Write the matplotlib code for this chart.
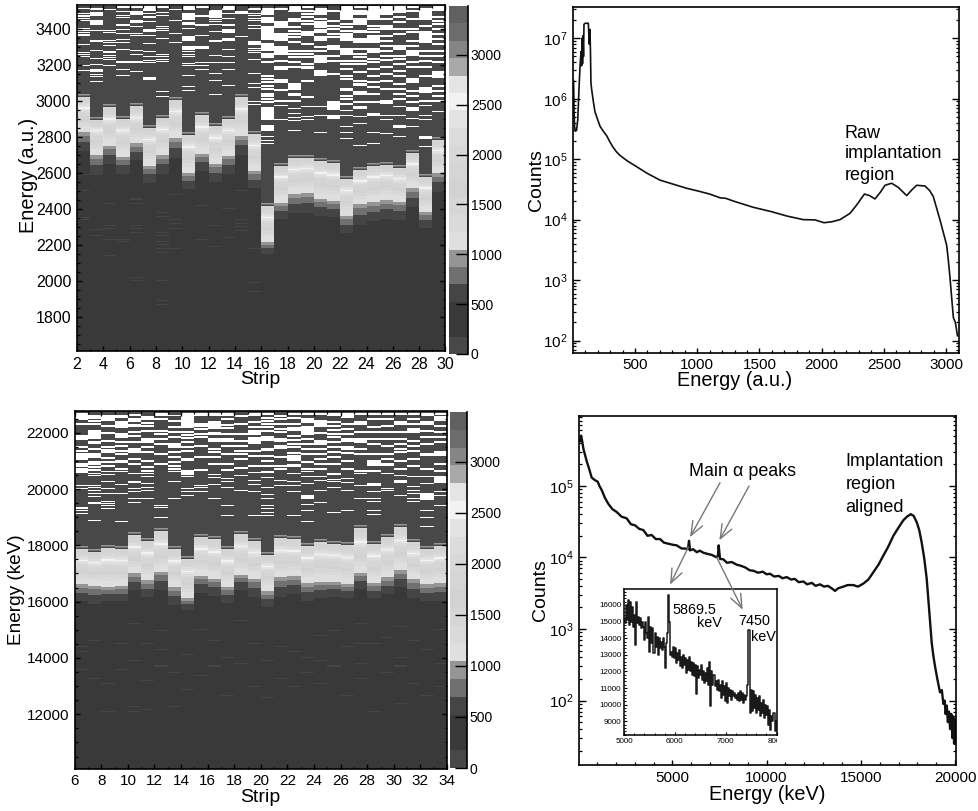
import numpy as np
import matplotlib
matplotlib.use('Agg')
import matplotlib.pyplot as plt
from matplotlib.colors import ListedColormap, BoundaryNorm
from matplotlib.ticker import MultipleLocator, LogLocator, NullFormatter
from matplotlib.transforms import Bbox

plt.rcParams['font.family'] = ['Liberation Sans', 'DejaVu Sans']
plt.rcParams['mathtext.fontset'] = 'custom'
plt.rcParams['mathtext.rm'] = 'Liberation Sans'

W, H = 979, 811

# colour scale of both maps
levels = [i * 174.5 for i in range(21)]
gray_levels = ['#484848', '#393939', '#393939', '#454545', '#707070', '#959595', '#dfdfdf',
               '#dadada', '#d6d6d6', '#d2d2d2', '#d5d5d5', '#d8d8d8', '#dcdcdc', '#e3e3e3',
               '#f2f2f2', '#e5e5e5', '#a9a9a9', '#858585', '#6c6c6c', '#606060']
cbar_ticks = [0, 500, 1000, 1500, 2000, 2500, 3000]

# counts through a strip, top of the band downwards
band_levels = [1500, 1650, 1750, 1900, 2050, 2200, 2350, 2550, 2350, 2150, 2000, 1900,
               1800, 1750, 1650, 1600, 1500, 1450, 1350, 1300, 1200, 1150, 1100, 1080]
fade_levels = [950, 950, 800, 800, 800, 600, 600, 600, 600, 600]
rim_levels = [600, 750, 900]
above_level = 100
below_level = 300
faint_level = 600

# raw map
raw_strips = list(range(2, 30))
raw_top = [3020, 2895, 2965, 2900, 2970, 2850, 2905, 3005, 2810, 2920, 2860, 2900, 3020, 2815,
           2415, 2640, 2680, 2685, 2665, 2655, 2565, 2615, 2640, 2645, 2625, 2710, 2575, 2780]
raw_low = [2825, 2700, 2750, 2690, 2765, 2640, 2700, 2795, 2600, 2705, 2650, 2695, 2805, 2610,
           2215, 2435, 2480, 2490, 2455, 2445, 2360, 2425, 2440, 2450, 2440, 2515, 2385, 2600]
raw_fade = [2720, 2590, 2650, 2595, 2670, 2545, 2595, 2680, 2510, 2610, 2550, 2595, 2700, 2515,
            2150, 2345, 2375, 2375, 2360, 2355, 2265, 2310, 2330, 2345, 2340, 2410, 2295, 2495]
raw_range = (1611, 3537)
raw_nbins = 347
# empty bins per strip, counted down from the top of the range
raw_empty = [
    [(0, 2), 4, 9, 11, 12, 14, 16, 24, 26, 28, 30, 31, 40, 48, 50, 52, 61, 66],
    [(0, 2), (4, 6), (8, 12), (16, 21), 26, (36, 38), 46, 54, 60, (65, 68), 70, 72, 77],
    [(0, 2), 5, 26, 28, 36, 38, 41, (47, 49), 51, 53, 55, 61],
    [(0, 4), 7, 11, 13, (20, 22), 25, 29, 35, 38, 45, 57, 58, 65, 71],
    [(0, 4), (7, 11), (16, 19), 22, 29, 31, 46, 50, 57, 58, 67],
    [(0, 7), 9, (12, 14), 17, (25, 28), (31, 32), 39, 47, 52, 56, 58, (73, 76)],
    [(0, 4), 8, 11, 22, 24, 26, 34, 50, 52, 55, 57, 87, 92],
    [(0, 2), 5, (16, 17), 29, 38],
    [(0, 6), (9, 16), (18, 21), 24, (32, 37), (42, 46), 47, 50, 52, 59, 61, 71, 82, 86],
    [(0, 4), (11, 13), (20, 22), 31, (42, 45), 58, 61, (65, 66)],
    [(0, 2), (6, 14), 15, 17, 20, 27, 36, 37, 51, 58, 69, 76, 90],
    [(0, 6), 9, 14, (20, 22), (25, 29), (34, 37), 45, 52, 58, 65, 81],
    [(7, 10), 32],
    [(4, 6), 9, 11, 14, 16, 21, 24, (37, 41), 44, 46, 48, 55, 69, 79, 83, 97, 100],
    [(0, 2), (4, 11), (13, 19), (22, 36), (39, 47), (49, 54), 57, 71, 74, 77, 81, 84, 89, 91, 94, 97,
     (103, 116), (121, 127), 132, 136, 139],
    [(0, 1), (4, 6), (17, 24), (29, 37), (42, 51), 56, (62, 66), (75, 79), 85, 96, 101, 115],
    [(2, 8), (14, 18), 22, 26, 29, 32, 37, 46, 49, 52, 57, 62, (79, 86), (89, 92), 96, 104, 109,
     113, 116, 126],
    [2, 6, 9, 12, 16, 19, (27, 32), 39, 46, 49, 52, 59, (62, 65), 76, 92, 102, 112, 115],
    [(4, 11), 14, (17, 24), (25, 29), (32, 37), 42, 46, (51, 59), (66, 72), 102, 111, 128],
    [(0, 2), 6, 16, 21, 24, 29, (32, 34), (41, 46), 51, 56, 69, (97, 106), (111, 115)],
    [(2, 16), 19, 22, 26, (29, 37), (44, 51), 56, 59, 64, 71, 74, (84, 87), 91, 94, 99, 106, 111, 122,
     128, 134],
    [2, (6, 11), (14, 21), (26, 29), (34, 39), (44, 46), 49, 52, 56, 59, 67, 76, (79, 82), (87, 91), 97,
     102, (103, 105), 112, 119, 141],
    [(2, 16), 21, 24, 27, (31, 39), (44, 49), 54, 57, 64, 71, 77, 82, 89, 97, (109, 112), 128, 139],
    [(2, 11), (14, 16), (21, 26), 31, 36, 41, 46, 51, 55, 62, 69, 76, 84, (96, 100), 111, 115, 129],
    [(0, 9), 12, 17, 24, 29, (41, 46), 51, 54, 59, 66, 71, 79, 84, 89, 94, 102, 111, (121, 124), 132],
    [2, 6, 14, 24, 27, 36, 41, (46, 52), 57, 62, (74, 79), 86, 91, 97, (103, 107), 114, 122],
    [(4, 16), 21, (27, 39), 46, 51, 56, 62, 71, (83, 89), 96, 101, 111, 115, (132, 135), 142],
    [(2, 7), 12, 16, 19, 24, 29, 34, 39, 46, 51, 57, (67, 74), 81, 86, 91, 96, 107],
]
# slightly filled single bins below the band: strip, energy
raw_faint_strip = [2, 2, 2, 2, 3, 3, 4, 4, 4, 4, 4, 5, 5, 6, 6, 6, 6, 6, 6, 6, 6, 8, 8, 8, 8, 8, 8, 8, 8, 8, 8,
                   8, 9, 9, 9, 9, 9, 11, 11, 12, 12, 13, 13, 14, 14, 14, 14, 14, 15, 15, 15]
raw_faint_energy = [2350, 2340, 2500, 2590, 2285, 2250, 2310, 2290, 2230, 2140, 2430, 2230, 2220, 2460,
                    2450, 2430, 2310, 2290, 2270, 2020, 2000, 2380, 2360, 2270, 2250, 2220, 2200, 2180,
                    2160, 2000, 1890, 1870, 2480, 2340, 2320, 2290, 2180, 2230, 2420, 2190, 2310, 2400,
                    2240, 2500, 2340, 2320, 2300, 2280, 2180, 1990, 1940]

# aligned map
cal_strips = list(range(6, 34))
cal_top = [17850, 17750, 17900, 17850, 18350, 18150, 18500, 17850, 17500, 18300, 18200, 17850, 18400, 18150,
           17650, 18250, 18200, 17950, 18100, 18050, 18000, 18600, 18050, 18300, 18650, 18100, 17850, 17950]
cal_low = [16600, 16550, 16500, 16550, 17000, 16750, 17050, 16500, 16100, 16900, 16800, 16500, 16950, 16800,
           16350, 16850, 16900, 16650, 16700, 16700, 16600, 17000, 16650, 16850, 17100, 16800, 16600, 16650]
cal_fade = [16000, 15900, 16000, 16000, 16400, 16150, 16400, 15850, 15700, 16300, 16200, 15950, 16400, 16150,
            15800, 16150, 16250, 16000, 16100, 16150, 16100, 16450, 16100, 16250, 16500, 16100, 16000, 16000]
cal_range = (10068, 22770)
cal_nbins = 357
cal_empty = [
    [(2, 9), 12, (24, 29), 35, 39, 42, 44, (45, 49), 52, 54, 57, 59, 61, 74, 77, (96, 98), 99, 102],
    [4, 6, 9, 12, (19, 28), (30, 33), 37, (42, 47), 50, 52, 55, 58, 62, 64, 74, 76, 79, 82, 85, (91, 93), 109],
    [(4, 10), (14, 16), (21, 23), 29, 35, 38, 40, 46, 50, 54, 60, 63, 70, 77, 82, 90, 92, 94, 97],
    [(4, 7), (10, 17), (22, 27), 30, 34, 39, 42, (49, 52), 57, 60, 73, 82, 110],
    [3, (7, 11), (13, 16), 20, 24, 30, (37, 42), 47, 52, 62, (70, 72), 77, 80, 87, 91],
    [(5, 9), 11, 14, 19, (27, 32), 35, 40, 49, 55, 59, 62, 65, 72, 76, 79, 87],
    [(2, 5), 7, 19, 22, 27, 32, 42, 52, 94, 96, 106],
    [(4, 5), 9, 15, 20, 25, (32, 37), 40, 45, 50, 54, 57, 60, 70, 87],
    [(2, 17), 20, 23, 26, 30, 35, 39, (47, 50), (59, 64), 65, 77, 80, 84],
    [(2, 5), 12, 14, 17, 22, 25, (34, 36), 45, 58, 74, 76, 80],
    [(2, 5), (10, 18), (21, 24), (27, 31), 37, 40, 45, 52, 63, 66, 73, 87],
    [(2, 5), 7, 13, 16, 22, (27, 31), 34, 42, 52, (58, 60), 67, 70, 76, 94, 104],
    [4, (12, 14), 22, 29, 34, 39, 42, 47, 56, 64, 79],
    [(2, 5), 10, 15, (19, 24), (26, 33), 39, 44, 54, 61, 69, 73, 80, 104],
    [(2, 4), 6, 9, 12, 15, 19, (25, 30), (37, 40), 44, 49, 54, (60, 62), 66, 76, 83, 87, 94, 97, 101, 104],
    [4, 7, 12, 17, 20, (27, 31), (34, 38), 45, 54, 57, 69, 74],
    [(2, 4), (6, 8), 12, (16, 20), 24, 28, 32, 35, 41, (44, 50), (53, 56), 62, 70, 74, 80, 104],
    [2, (7, 12), (15, 24), 27, 32, 37, 42, 50, 57, 60, 65, 72, (84, 88), 93, 99, 110],
    [(2, 4), (9, 16), 21, (29, 34), 37, 42, 47, 52, 57, 65, 69, 79, 91],
    [(2, 5), 10, 14, 18, 22, 25, 30, 35, 40, 45, 52, (62, 64), 68, 70, 76, 101],
    [(2, 7), 12, 17, 22, (27, 31), (35, 39), 41, (49, 51), 57, 67, 71, 79, 99],
    [2, (10, 14), 20, (27, 32), 37, 42, 59, 62, 74, 87],
    [(2, 4), 7, 15, 20, 27, 32, 42, (49, 55), 59, (72, 75), 80, 87, 90, 99, 103],
    [2, 7, 14, 20, 27, 34, 42, 47, (52, 55), 62, 77, 79],
    [(2, 4), (10, 14), 20, 27, 32, 37, 40, 49, 57, 64, (69, 72), 84],
    [2, 7, 12, (17, 22), 29, 34, 39, 47, 54, 65, 75, 79, 82, 87, 90],
    [(2, 5), (10, 14), 19, 25, 32, (42, 45), 57, 65, 72, (82, 89), 99, 106, 115],
    [2, (5, 10), 14, 20, 25, 30, (40, 45), 52, 59, (65, 72), 80, 84, 94],
]
cal_faint_strip = [6, 6, 6, 7, 7, 8, 8, 9, 9, 10, 10, 10, 10, 11, 11, 11, 12, 12, 12, 13, 13, 14, 14, 15, 15, 16, 16,
                   17, 17, 18, 18, 19, 19, 20, 20, 21, 21, 22, 22, 23, 23, 24, 24, 24, 25, 25, 26, 26, 27, 27, 27, 27,
                   28, 28, 29, 29, 30, 30, 30, 30, 31, 31, 32, 32, 33, 33, 33]
cal_faint_energy = [14400, 13600, 14200, 13300, 14600, 13100, 12100, 14500, 13600, 15200, 13900, 12100, 12300,
                    14500, 13200, 12200, 14950, 14300, 13700, 13500, 12300, 14100, 12900, 15000, 13400,
                    14600, 13700, 14000, 12700, 15300, 13800, 14500, 13000, 13900, 12600, 14400, 13300,
                    14200, 13000, 14000, 13500, 14800, 13900, 13100, 14950, 13700, 14400, 12700, 15200,
                    14500, 13800, 13300, 14500, 12100, 14700, 13500, 15100, 14000, 13700, 12400, 14600,
                    13100, 14300, 12700, 15000, 13800, 13000]

# raw spectrum
raw_e = [6, 8, 10, 14, 20, 30, 40, 50, 58, 66, 70, 74, 78, 82, 86, 90, 100, 112, 125, 132, 138, 142, 146, 152, 165,
         178, 200, 219, 245, 272, 300, 326, 350, 380, 440, 500, 600, 701, 800, 915, 1000, 1100, 1183, 1230, 1300,
         1451, 1600, 1719, 1853, 1947, 2019, 2080, 2148, 2228, 2282, 2344, 2385, 2429, 2470, 2510, 2563, 2617, 2684,
         2725, 2764, 2831, 2870, 2898, 2951, 3005, 3018, 3032, 3059, 3075, 3092]
raw_counts = [2e6, 1.2e6, 6e5, 3.5e5, 2.9e5, 3e5, 4.5e5, 1.5e6, 3.4e6, 6e6, 3.5e6, 1e7, 3.8e6, 1.1e7, 5e6, 1.7e7,
              1.77e7, 1.77e7, 1.77e7, 8e6, 1.4e7, 6e6, 1.8e6, 1.4e6, 9e5, 6.1e5, 4.5e5, 3.5e5, 2.9e5, 2.45e5, 1.9e5,
              1.55e5, 1.33e5, 1.15e5, 9.3e4, 7.8e4, 5.8e4, 4.5e4, 3.9e4, 3.3e4, 3e4, 2.65e4, 2.3e4, 2.25e4, 2e4,
              1.6e4, 1.35e4, 1.15e4, 1.0e4, 9.9e3, 8.9e3, 9.2e3, 1.0e4, 1.27e4, 1.75e4, 2.65e4, 2.5e4, 2.2e4, 2.8e4,
              3.7e4, 4e4, 3.4e4, 2.5e4, 3.1e4, 3.7e4, 3.6e4, 3e4, 2.4e4, 1e4, 3.8e3, 2.2e3, 1.1e3, 2.4e2, 2e2, 1.2e2]

# aligned spectrum
cal_e = [100, 153, 215, 277, 365, 454, 590, 719, 880, 1037, 1140, 1250, 1420, 1600, 1820, 2046, 2300, 2577, 2800,
         3020, 3240, 3461, 3680, 3900, 4120, 4345, 4560, 4790, 5010, 5230, 5490, 5760, 5830, 5884, 5938, 6100, 6300,
         6450, 6645, 6850, 7100, 7352, 7420, 7458, 7530, 7700, 7900, 8150, 8414, 8650, 8880, 9100, 9299, 9550, 9800,
         10000, 10183, 10400, 10650, 10850, 11068, 11300, 11500, 11700, 11952, 12150, 12400, 12600, 12836, 13050,
         13250, 13450, 13632, 13800, 14074, 14300, 14605, 14850, 15136, 15400, 15667, 15950, 16197, 16450, 16728,
         17000, 17259, 17450, 17648, 17800, 17967, 18100, 18232, 18370, 18497, 18630, 18762, 18850, 18939, 19060,
         19204, 19300, 19380, 19450, 19500, 19560, 19620, 19680, 19740, 19800, 19860, 19900, 19950, 19990, 20020]
cal_counts = [4.2e5, 5e5, 4.2e5, 3.3e5, 2.7e5, 2.2e5, 1.7e5, 1.3e5, 1.2e5, 1.14e5, 9.8e4, 8.7e4, 6.8e4, 5.6e4, 4.7e4,
              4.3e4, 3.7e4, 3.5e4, 2.9e4, 2.8e4, 2.5e4, 2.4e4, 2.0e4, 2.05e4, 1.8e4, 1.8e4, 1.6e4, 1.55e4, 1.5e4,
              1.47e4, 1.33e4, 1.32e4, 1.3e4, 1.7e4, 1.25e4, 1.3e4, 1.18e4, 1.24e4, 1.16e4, 1.12e4, 1.08e4, 1.0e4,
              1.06e4, 1.47e4, 9.5e3, 9.4e3, 8.4e3, 8.6e3, 7.9e3, 7.6e3, 7.2e3, 6.6e3, 6.5e3, 6.1e3, 6.3e3, 5.8e3,
              5.9e3, 5.4e3, 5.5e3, 5.1e3, 5.3e3, 4.9e3, 5.0e3, 4.5e3, 4.6e3, 4.2e3, 4.4e3, 4.0e3, 4.2e3, 3.9e3, 4.0e3,
              3.7e3, 3.4e3, 3.7e3, 3.9e3, 4.1e3, 4.1e3, 3.9e3, 4.3e3, 4.9e3, 6.2e3, 8e3, 1.06e4, 1.4e4, 2e4, 2.6e4,
              3.3e4, 3.7e4, 4e4, 3.8e4, 3.1e4, 2.4e4, 1.6e4, 9.5e3, 5e3, 1.8e3, 6.4e2, 4.2e2, 3e2, 2e2, 1.3e2, 1.4e2,
              9e1, 1e2, 6.5e1, 8.5e1, 5e1, 7e1, 4e1, 6.5e1, 3e1, 6e1, 2.5e1, 5.5e1, 2.5e1]

# inset, 20 keV bins from 5000 keV
inset_start = 5000
inset_width = 20
inset_counts = [15200, 14900, 16000, 15100, 16300, 14800, 16200, 15000, 15900, 14700,
                15400, 13600, 16200, 14900, 15300, 14800, 15200, 14600, 15000, 14700,
                13900, 15000, 14300, 14000, 15300, 13200, 14700, 13700, 14600, 13100,
                14300, 13500, 14100, 13000, 14000, 13400, 13800, 13300, 14000, 13500,
                12200, 13700, 14300, 16600, 15000, 13000, 13200, 12900, 13500, 12800,
                13400, 12500, 13100, 12700, 13300, 12300, 12900, 12200, 13000, 12400,
                12800, 11900, 12700, 12100, 12900, 12000, 12600, 11800, 12500, 11700,
                12400, 10650, 12300, 11600, 12100, 11800, 12400, 11500, 12000, 11300,
                11900, 11400, 12200, 11200, 12600, 9950, 12000, 11200, 11800, 11100,
                11400, 10900, 11500, 10800, 11200, 10400, 11400, 10600, 11100, 10200,
                11300, 10100, 11000, 10500, 10900, 10300, 10800, 10500, 10700, 10400,
                10600, 10300, 10700, 10200, 10800, 10300, 10700, 10100, 10600, 10300,
                10500, 11200, 14500, 14500, 9500, 10900, 9600, 10800, 9800, 10600,
                9500, 10400, 9700, 10500, 9300, 10100, 9500, 10300, 9200, 10000,
                9400, 9900, 8800, 9700, 8500, 9300, 9000, 9500, 8400, 9000]


def ax_px(x0, y0, x1, y1):
    return fig.add_axes([x0 / W, 1 - y1 / H, (x1 - x0) / W, (y1 - y0) / H])


def px_text(x, y, s, size, **kw):
    kw.setdefault('ha', 'left')
    kw.setdefault('va', 'center')
    fig.text(x / W, 1 - y / H, s, fontsize=size, **kw)


def build_hist(strips, top, low, fade, empty, faint_s, faint_e, e_range, nbins, wide_strip, wide_bin):
    edges = np.linspace(e_range[0], e_range[1], nbins + 1)
    centers = 0.5 * (edges[:-1] + edges[1:])
    hist = np.full((nbins, len(strips)), float(below_level))
    bw = edges[1] - edges[0]
    for j in range(len(strips)):
        for i, e in enumerate(centers):
            if e >= top[j] + len(rim_levels) * bw:
                hist[i, j] = above_level
            elif e >= top[j]:
                hist[i, j] = rim_levels[int((e - top[j]) / bw)]
            elif e >= low[j]:
                k = int((top[j] - e) / (top[j] - low[j]) * len(band_levels))
                hist[i, j] = band_levels[k]
            elif e >= fade[j]:
                k = int((low[j] - e) / (low[j] - fade[j]) * len(fade_levels))
                hist[i, j] = fade_levels[k]
    for s, e in zip(faint_s, faint_e):
        j = strips.index(s)
        hist[np.searchsorted(edges, e) - 1, j] = faint_level
    for j, rows in enumerate(empty):
        for r in rows:
            if isinstance(r, tuple):
                a, b = r
            elif strips[j] >= wide_strip and r < wide_bin:
                # the busy part of the map, lines there read about two bins wide
                a, b = r, r + 2
            else:
                a, b = r, r + 1
            hist[nbins - b:nbins - a, j] = np.nan
    return edges, hist


def draw_map(box, cbox, strips, hist_args, e_range, nbins, y_major, y_minor, tick_size, wide):
    ax = ax_px(*box)
    edges, hist = build_hist(strips, *hist_args, e_range, nbins, *wide)
    x_edges = np.arange(strips[0], strips[-1] + 2)
    mesh = ax.pcolormesh(x_edges, edges, np.ma.masked_invalid(hist), cmap=cmap, norm=norm)
    ax.set_xlim(x_edges[0], x_edges[-1])
    ax.set_ylim(*e_range)
    ax.xaxis.set_major_locator(MultipleLocator(2))
    ax.xaxis.set_minor_locator(MultipleLocator(1))
    ax.yaxis.set_major_locator(MultipleLocator(y_major))
    ax.yaxis.set_minor_locator(MultipleLocator(y_minor))
    ax.tick_params(which='major', direction='in', top=True, right=True, length=3.4, width=1,
                   labelsize=tick_size, pad=4)
    ax.tick_params(which='minor', direction='in', top=True, right=True, length=1.8, width=0.9)
    for sp in ax.spines.values():
        sp.set_linewidth(1.2)
    cax = ax_px(*cbox)
    cbar = fig.colorbar(mesh, cax=cax, ticks=cbar_ticks, spacing='proportional')
    cbar.minorticks_off()
    cbar.outline.set_visible(False)
    cax.tick_params(direction='in', length=8.5, width=1, labelsize=10, pad=2)
    cax.axvline(1, color='k', lw=1.2, clip_on=False)
    return ax


def style_spectrum(ax, x_major, x_minor, ymin, ymax, xlim):
    ax.set_yscale('log')
    ax.set_xlim(*xlim)
    ax.set_ylim(ymin, ymax)
    ax.xaxis.set_major_locator(MultipleLocator(x_major))
    ax.xaxis.set_minor_locator(MultipleLocator(x_minor))
    ax.yaxis.set_major_locator(LogLocator(base=10, numticks=12))
    ax.yaxis.set_minor_locator(LogLocator(base=10, subs=range(2, 10), numticks=12))
    ax.yaxis.set_minor_formatter(NullFormatter())
    ax.tick_params(which='major', direction='in', right=True, length=5, width=1, labelsize=11, pad=4)
    ax.tick_params(which='minor', direction='in', right=True, length=2.5, width=0.9)
    ax.tick_params(axis='x', which='major', length=3.6)
    ax.tick_params(axis='x', which='minor', length=2)
    for sp in ax.spines.values():
        sp.set_linewidth(1.2)


fig = plt.figure(figsize=(W / 100, H / 100), dpi=100)
cmap = ListedColormap(gray_levels)
cmap.set_bad('white')
norm = BoundaryNorm(levels, cmap.N)

# top left
draw_map((77, 4.5, 445.5, 351), (449, 6, 468, 354), raw_strips,
         (raw_top, raw_low, raw_fade, raw_empty, raw_faint_strip, raw_faint_energy),
         raw_range, raw_nbins, 200, 50, 11.5, (16, 100))
px_text(260, 379, 'Strip', 14, ha='center')
px_text(28.5, 175, 'Energy (a.u.)', 14.3, ha='center', rotation=90)

# bottom left
draw_map((74.7, 411, 447, 768.7), (450, 412, 467, 768), cal_strips,
         (cal_top, cal_low, cal_fade, cal_empty, cal_faint_strip, cal_faint_energy),
         cal_range, cal_nbins, 2000, 500, 11, (6, 60))
px_text(260, 798, 'Strip', 14, ha='center')
px_text(17, 590, 'Energy (keV)', 13.7, ha='center', rotation=90)

# top right
ax_raw = ax_px(573.3, 7.3, 958.7, 352.7)
ax_raw.plot(raw_e, raw_counts, color='#111111', lw=1.2)
style_spectrum(ax_raw, 500, 100, 63, 3.25e7, (4, 3102))
px_text(735, 380, 'Energy (a.u.)', 14.3, ha='center')
px_text(537, 180, 'Counts', 14, ha='center', rotation=90)
px_text(845, 133, 'Raw', 13)
px_text(845, 153, 'implantation', 13)
px_text(845, 175, 'region', 13)

# bottom right, kept above the inset so the arrows cross it
ax_cal = ax_px(578.7, 415.7, 955.7, 765)
ax_cal.set_zorder(2)
ax_cal.patch.set_alpha(0)
ax_cal.plot(cal_e, cal_counts, color='#111111', lw=1.7)
style_spectrum(ax_cal, 5000, 1000, 12.6, 9.5e5, (30, 20035))
px_text(767, 795, 'Energy (keV)', 14.3, ha='center')
px_text(540, 590, 'Counts', 14, ha='center', rotation=90)
px_text(689, 471, 'Main α peaks', 12.9)
px_text(845.7, 461.7, 'Implantation', 13)
px_text(845.7, 485, 'region', 13)
px_text(845.7, 507, 'aligned', 13)

arrows = [((7530, 1.10e5), (5938, 1.92e4)), ((9069, 9.9e4), (7494, 1.73e4)),
          ((5849, 1.39e4), (4876, 4.16e3)), ((7353, 1.0e4), (8733, 1.85e3))]
for start, end in arrows:
    ax_cal.annotate('', xy=end, xytext=start,
                    arrowprops=dict(arrowstyle='->,head_length=1.0,head_width=0.4', color='#777777',
                                    lw=1.0, shrinkA=0, shrinkB=0))

# inset
ax_in = ax_px(624, 589, 776.7, 735)
ax_in.set_zorder(1)
inset_x = [inset_start + inset_width * (i + 0.5) for i in range(len(inset_counts))]
ax_in.plot(inset_x, inset_counts, color='#1a1a1a', lw=1.1, drawstyle='steps-mid')
ax_in.set_xlim(5000, 8003)
ax_in.set_ylim(8180, 16960)
ax_in.xaxis.set_major_locator(MultipleLocator(1000))
ax_in.xaxis.set_minor_locator(MultipleLocator(200))
ax_in.yaxis.set_major_locator(MultipleLocator(1000))
ax_in.yaxis.set_minor_locator(MultipleLocator(200))
ax_in.tick_params(which='major', direction='in', length=2.5, width=0.8, labelsize=5.8, pad=2)
ax_in.tick_params(which='minor', direction='in', length=1.3, width=0.7)
for sp in ax_in.spines.values():
    sp.set_linewidth(1.1)
fig.canvas.draw()
for lab in ax_in.get_xticklabels():
    lab.set_clip_on(True)
    lab.set_clip_box(Bbox([[0, 0], [777, H]]))

px_text(672, 610, '5869.5', 10.4)
px_text(696.7, 623, 'keV', 10.4)
px_text(738, 621, '7450', 10.4)
px_text(751, 637, 'keV', 10.4)

fig.savefig('out.png', dpi=100)
